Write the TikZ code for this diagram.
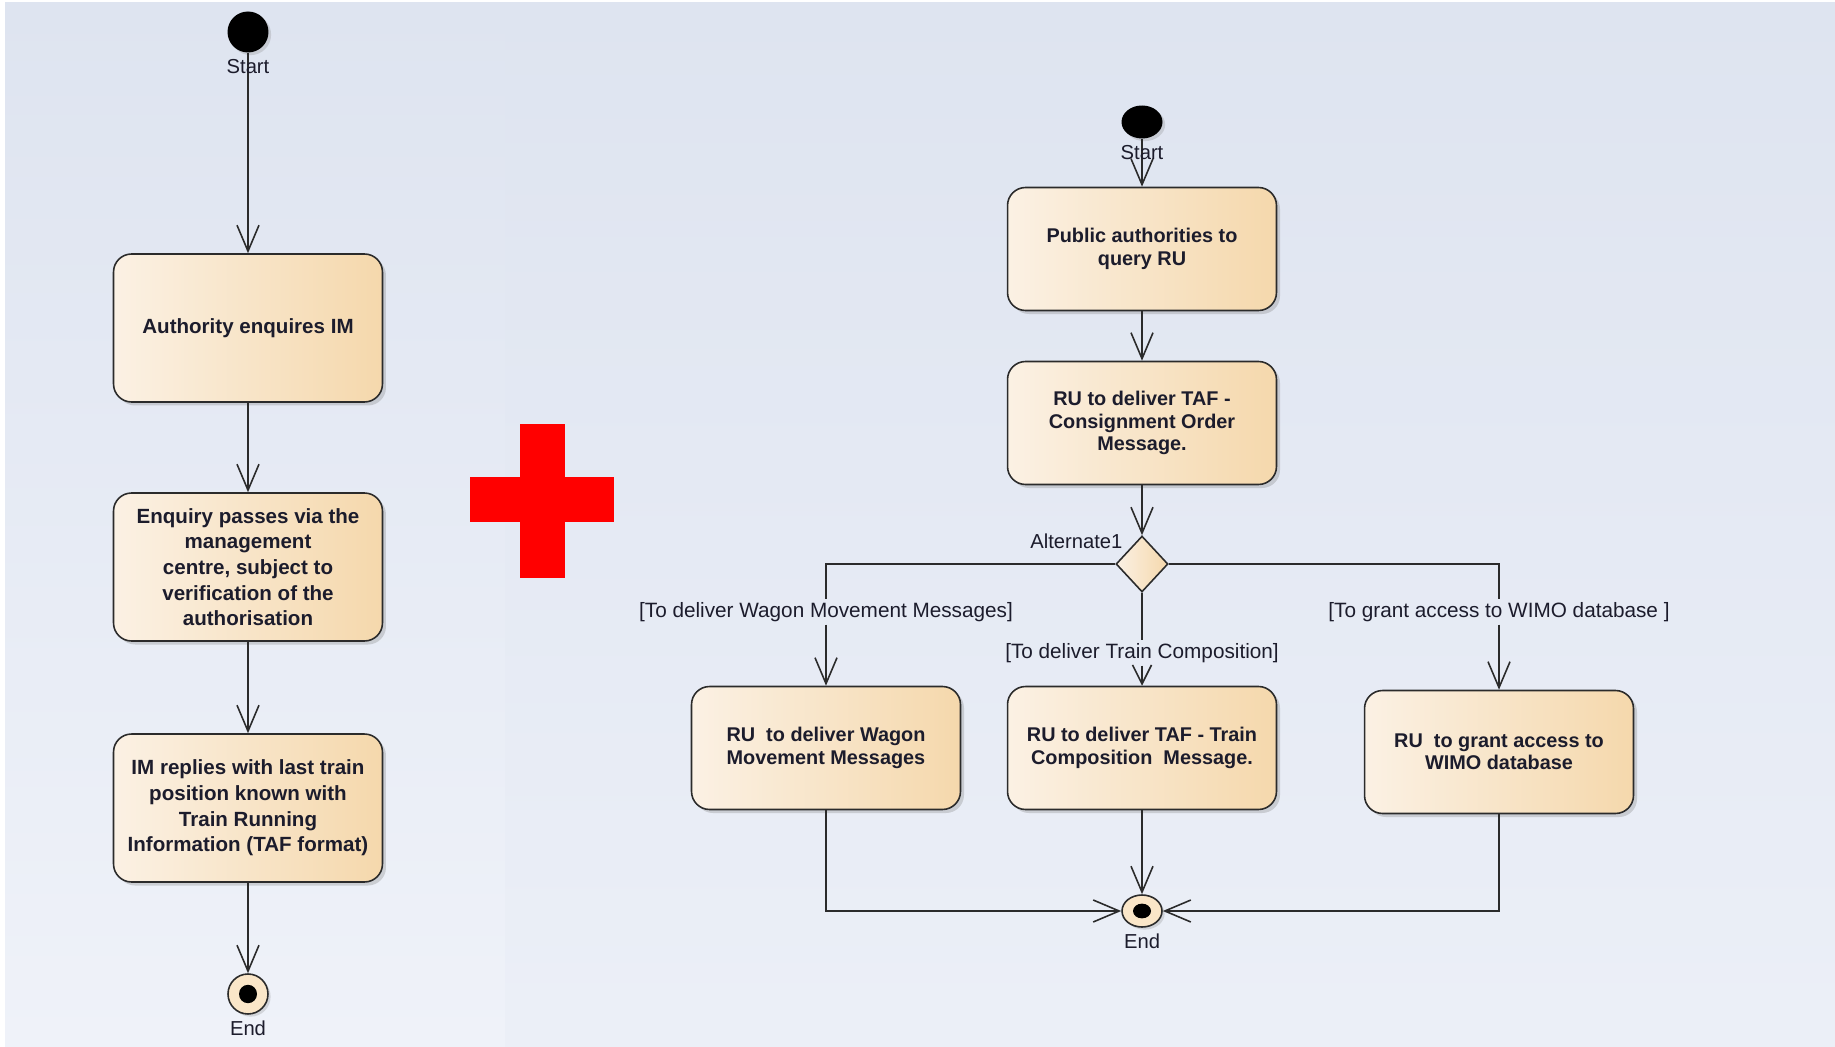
\documentclass[tikz,border=0pt]{standalone}
\usepackage{fontspec}
\setmainfont{Liberation Sans}
\usetikzlibrary{positioning,arrows.meta,shapes.geometric,shadows}
\definecolor{actleft}{HTML}{FBF1E4}
\definecolor{actright}{HTML}{F5D8AC}
\definecolor{endfill}{HTML}{FAE6C8}
\definecolor{bgtop}{HTML}{DEE4F0}
\definecolor{bgbot}{HTML}{EFF2F9}
\definecolor{inkline}{HTML}{2B2B2B}
\definecolor{inktext}{HTML}{1C1C2C}
\definecolor{plusred}{HTML}{FF0000}
\tikzset{
  act/.style={rectangle,rounded corners=0.36cm,draw=inkline,line width=0.9pt,
    left color=actleft,right color=actright,
    drop shadow={shadow xshift=2pt,shadow yshift=-2pt,opacity=0.3},
    align=center,text=inktext,font=\bfseries\fontsize{11.3}{12.8}\selectfont,
    minimum width=5.38cm,minimum height=2.46cm,inner sep=2pt},
  bigact/.style={act,minimum height=2.96cm,font=\bfseries\fontsize{11.7}{14.6}\selectfont},
  decision/.style={diamond,draw=inkline,line width=0.9pt,left color=actleft,right color=actright,
    minimum width=1.04cm,minimum height=1.12cm,inner sep=0pt},
  startdot/.style={ellipse,fill=black,minimum width=0.82cm,minimum height=#1,inner sep=0pt,
    drop shadow={shadow xshift=1.5pt,shadow yshift=-1.5pt,opacity=0.25}},
  startdot/.default=0.82cm,
  enddot/.style={ellipse,draw=inkline,line width=0.9pt,fill=endfill,minimum width=0.8cm,
    minimum height=#1,inner sep=0pt,
    drop shadow={shadow xshift=1.5pt,shadow yshift=-1.5pt,opacity=0.25},
    path picture={\fill[black] (path picture bounding box.center)
      ellipse [x radius=0.18cm,y radius={0.23*#1}];}},
  enddot/.default=0.8cm,
  lbl/.style={font=\fontsize{11.5}{13}\selectfont,text=inktext},
  guard/.style={font=\fontsize{11.8}{13}\selectfont,text=inktext,inner sep=1.5pt},
  flow/.style={draw=inkline,line width=0.9pt,-{Straight Barb[length=0.52cm,width=0.44cm]}},
  flowshort/.style={flow,-{Straight Barb[length=0.38cm,width=0.38cm]}},
  wire/.style={draw=inkline,line width=0.9pt},
}
\begin{document}
\begin{tikzpicture}[x=0.02cm,y=-0.02cm]
  % background: two panels
  \useasboundingbox (0,0) rectangle (1835,1047);
  \fill[white] (0,0) rectangle (1835,1047);
  \shade[top color=bgtop,bottom color=bgbot] (5,3) rectangle (505,1047);
  \shade[top color=bgtop,bottom color=bgbot!80!bgtop] (505,3) rectangle (1835,1047);
  % red plus between the two flows
  \fill[plusred] (470,477) rectangle (614,522);
  \fill[plusred] (520,424) rectangle (565,578);

  % left flow
  \node[startdot] (startL) at (248,32) {};
  \node[bigact] (enquire) at (248,328) {Authority enquires IM};
  \node[bigact] (passes) at (248,567)
       {Enquiry passes via the\\ management\\ centre, subject to\\ verification of the\\ authorisation};
  \node[bigact] (replies) at (248,808)
       {IM replies with last train\\ position known with\\ Train Running\\ Information (TAF format)};
  \node[enddot] (endL) at (248,994) {};
  \draw[flow] (startL) -- (enquire);
  \draw[flow] (enquire) -- (passes);
  \draw[flow] (passes) -- (replies);
  \draw[flow] (replies) -- (endL);
  \node[lbl,below=0pt of startL] (startLlbl) {Start};
  \node[lbl,below=0pt of endL] (endLlbl) {End};

  % right flow
  \node[startdot=0.66cm] (startR) at (1142,122) {};
  \node[act] (query) at (1142,249) {Public authorities to\\ query RU};
  \node[act] (consign) at (1142,423) {RU to deliver TAF -\\ Consignment Order\\ Message.};
  \node[decision] (alt) at (1142,564) {};
  \node[lbl,anchor=south east,yshift=-3pt] (altlbl) at (alt.north west) {Alternate1};
  \node[act] (wagon) at (826,748) {RU\ \ to deliver Wagon\\ Movement Messages};
  \node[act] (compo) at (1142,748) {RU to deliver TAF - Train\\ Composition\ \ Message.};
  \node[act] (wimo) at (1499,752) {RU\ \ to grant access to\\ WIMO database};
  \node[enddot=0.64cm] (endR) at (1142,911) {};
  % guards on the branches
  \node[guard] (gWagon) at (826,612) {[To deliver Wagon Movement Messages]};
  \node[guard] (gCompo) at (1142,653) {[To deliver Train Composition]};
  \node[guard] (gWimo) at (1499,612) {[To grant access to WIMO database ]};

  \draw[flow] (startR) -- (query);
  \draw[flow] (query) -- (consign);
  \draw[flow] (consign) -- (alt);
  \draw[wire] (alt.west) -| (gWagon.north);
  \draw[flow] (gWagon.south) -- (wagon.north);
  \draw[wire] (alt.south) -- (gCompo.north);
  \draw[flowshort] (gCompo.south) -- (compo.north);
  \draw[wire] (alt.east) -| (gWimo.north);
  \draw[flow] (gWimo.south) -- (wimo.north);
  \draw[flow] (wagon.south) |- (endR.west);
  \draw[flow] (compo.south) -- (endR.north);
  \draw[flow] (wimo.south) |- (endR.east);
  \node[lbl,below=0pt of startR] (startRlbl) {Start};
  \node[lbl,below=0pt of endR] (endRlbl) {End};
\end{tikzpicture}
\end{document}
